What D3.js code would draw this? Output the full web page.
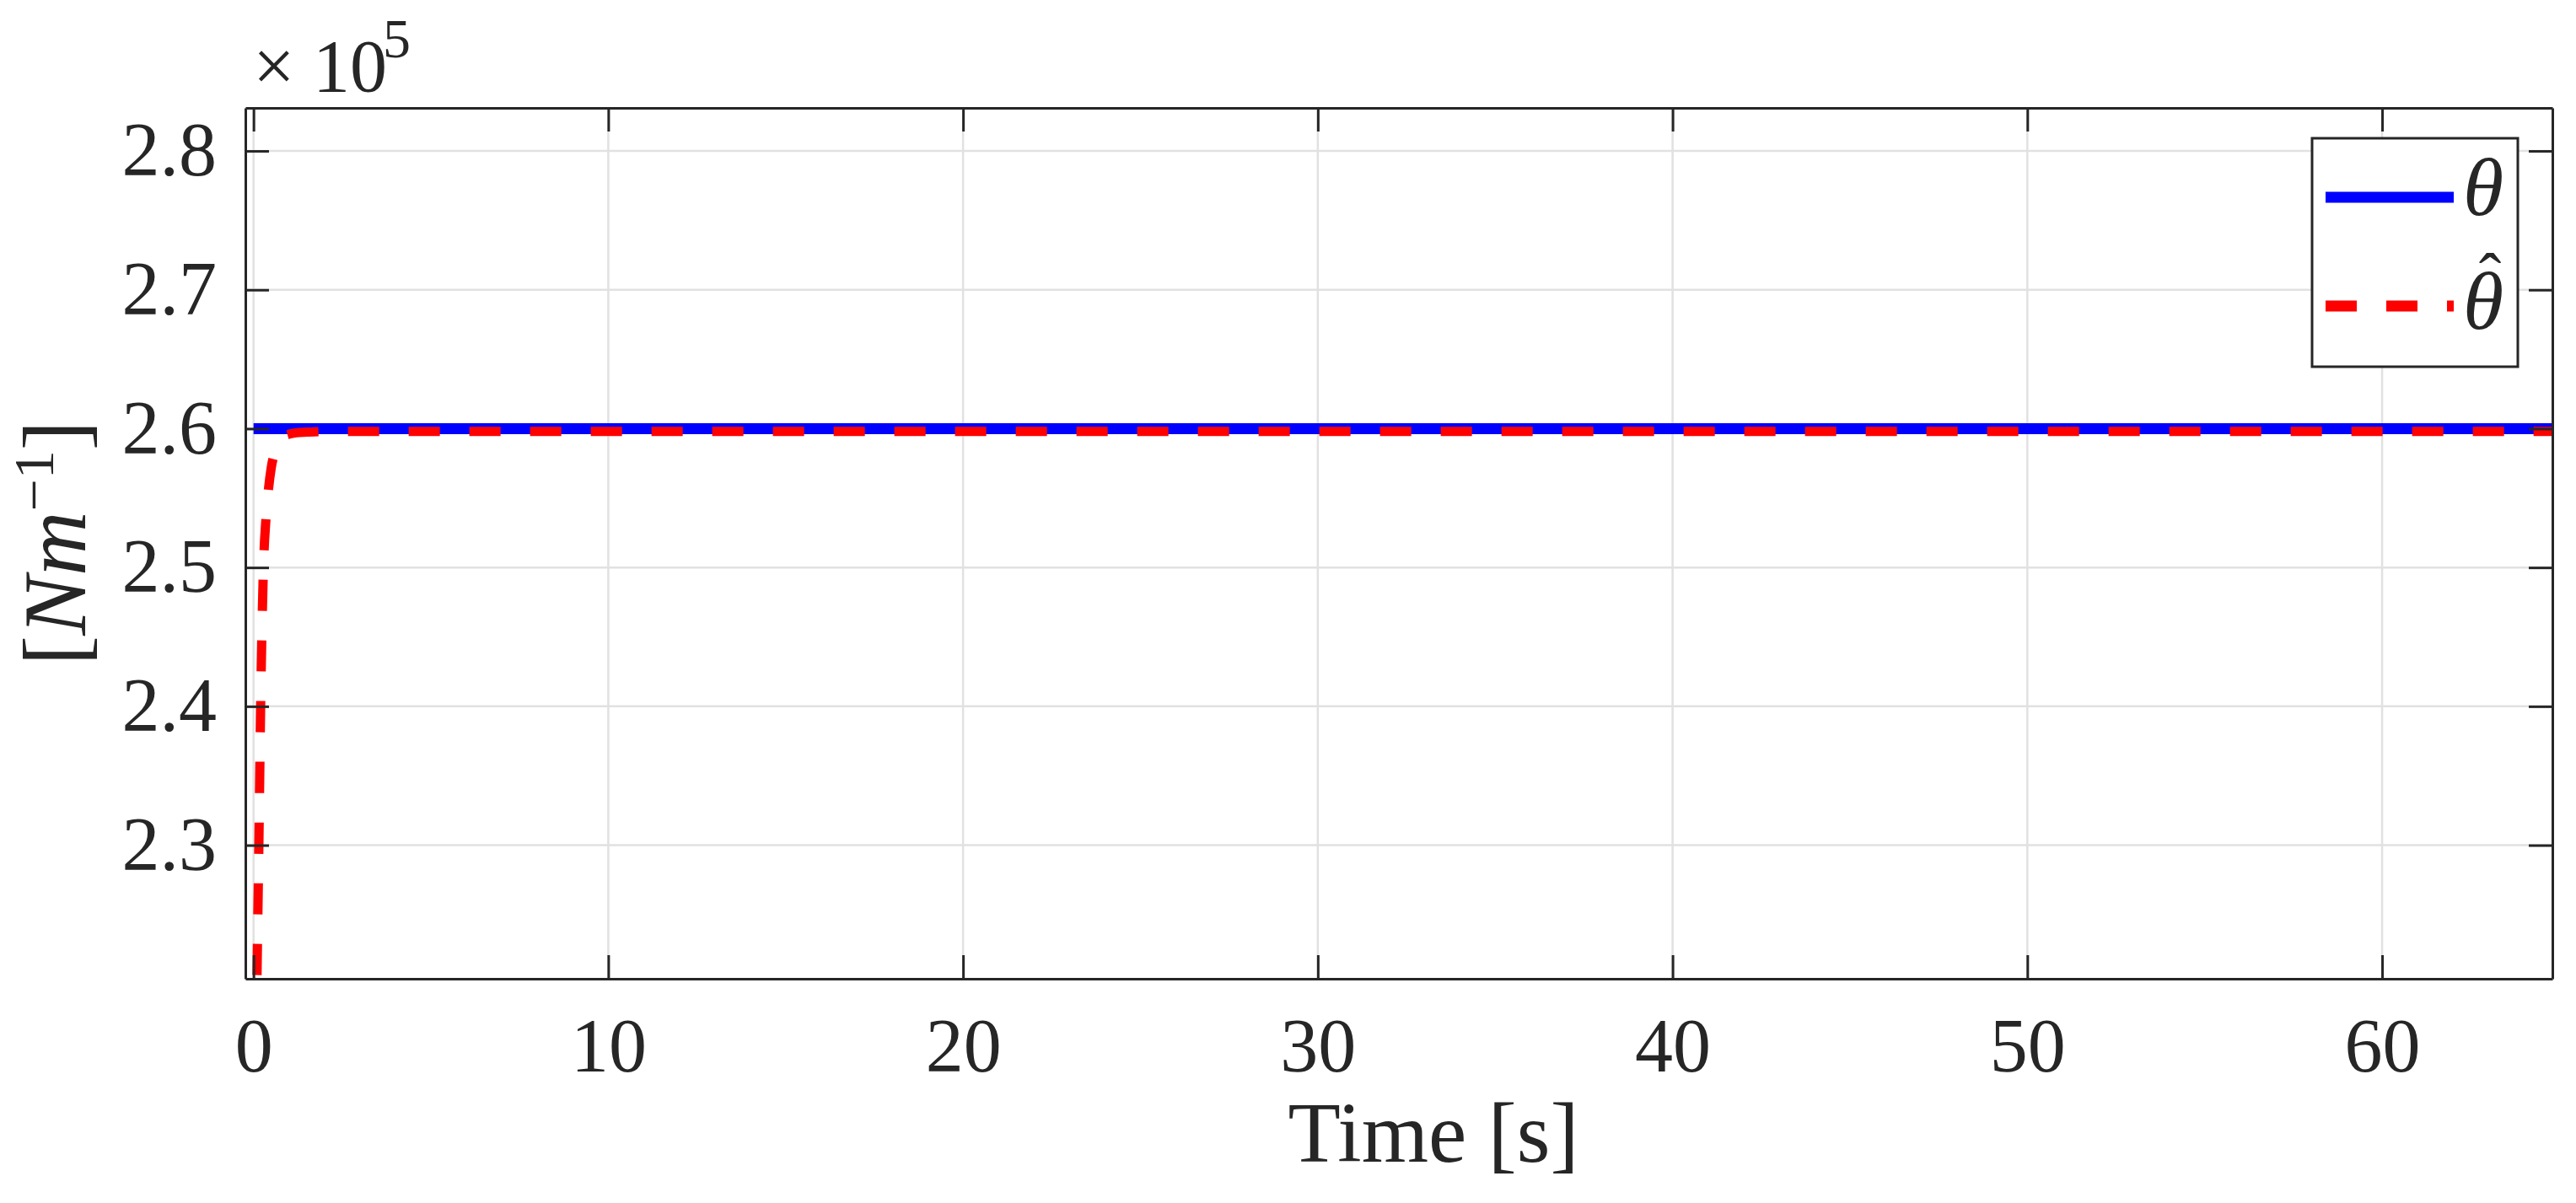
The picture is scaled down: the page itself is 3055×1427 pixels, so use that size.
<!DOCTYPE html>
<html>
<head>
<meta charset="utf-8">
<script src="https://cdn.jsdelivr.net/npm/d3@7"></script>
<style>
  html, body { margin: 0; padding: 0; background: #fff; }
  svg { display: block; }
  text { font-family: "Liberation Serif", "Times New Roman", serif; fill: #262626; }
</style>
</head>
<body>
<svg id="chart" width="3055" height="1427"></svg>
<script>
// ---- data ----
const xTicks = [0, 10, 20, 30, 40, 50, 60];
const yTicks = [2.3, 2.4, 2.5, 2.6, 2.7, 2.8];
const xDomain = [-0.23, 64.8];
const yDomain = [2.2038, 2.831];
const tTrue = [0, 65];
const thetaTrue = [2.6, 2.6];
const tEst = [0, 0.05, 0.1, 0.15, 0.2, 0.28, 0.35, 0.42, 0.5, 0.6, 0.72, 0.85, 1.0, 1.2, 1.5, 2, 3, 5, 8, 12, 20, 40, 65];
const thetaEst = [2.0, 2.1, 2.21, 2.30, 2.40, 2.50, 2.535, 2.556, 2.572, 2.583, 2.590, 2.5945, 2.596, 2.597, 2.5975, 2.598, 2.598, 2.598, 2.598, 2.598, 2.598, 2.598, 2.598];
const legendLabels = ["θ", "θ"];

// ---- layout ----
const L = 291, T = 128, R = 3027, B = 1161;
const W = R - L, H = B - T;
const svg = d3.select("#chart");
const x = d3.scaleLinear().domain(xDomain).range([0, W]);
const y = d3.scaleLinear().domain(yDomain).range([H, 0]);
const axisColor = "#262626";

const g = svg.append("g").attr("transform", `translate(${L},${T})`);

svg.append("defs").append("clipPath").attr("id", "clip")
  .append("rect").attr("x", 0).attr("y", 0).attr("width", W).attr("height", H);

// grid
g.append("g").selectAll("line.gx").data(xTicks).join("line")
  .attr("x1", d => x(d)).attr("x2", d => x(d)).attr("y1", 0).attr("y2", H)
  .attr("stroke", "#e1e1e1").attr("stroke-width", 2.5);
g.append("g").selectAll("line.gy").data(yTicks).join("line")
  .attr("y1", d => y(d)).attr("y2", d => y(d)).attr("x1", 0).attr("x2", W)
  .attr("stroke", "#e1e1e1").attr("stroke-width", 2.5);

// lines
const plot = g.append("g").attr("clip-path", "url(#clip)");
const line = d3.line().x(d => x(d[0])).y(d => y(d[1]));
const lineSmooth = d3.line().x(d => x(d[0])).y(d => y(d[1])).curve(d3.curveMonotoneX);
plot.append("path").datum(d3.zip(tTrue, thetaTrue))
  .attr("d", line).attr("fill", "none").attr("stroke", "#0000ff").attr("stroke-width", 13);
plot.append("path").datum(d3.zip(tEst, thetaEst))
  .attr("d", lineSmooth).attr("fill", "none").attr("stroke", "#ff0000").attr("stroke-width", 11)
  .attr("stroke-dasharray", "37,35").attr("stroke-dashoffset", 20);

// axes
function styleAxis(sel) {
  sel.selectAll("path.domain").attr("stroke", axisColor).attr("stroke-width", 3);
  sel.selectAll(".tick line").attr("stroke", axisColor).attr("stroke-width", 3);
}
const gx = g.append("g").attr("transform", `translate(0,${H})`)
  .call(d3.axisBottom(x).tickValues(xTicks).tickSize(-28).tickSizeOuter(0).tickPadding(46).tickFormat(d3.format("d")));
gx.call(styleAxis);
gx.selectAll("text").attr("font-size", 90).attr("fill", axisColor)
  .style("font-family", '"Liberation Serif", serif');

const gy = g.append("g")
  .call(d3.axisLeft(y).tickValues(yTicks).tickSize(-28).tickSizeOuter(0).tickPadding(34).tickFormat(d3.format(".1f")));
gy.call(styleAxis);
gy.selectAll("text").attr("font-size", 90).attr("fill", axisColor)
  .style("font-family", '"Liberation Serif", serif');

const gt = g.append("g")
  .call(d3.axisTop(x).tickValues(xTicks).tickSize(-28).tickSizeOuter(0).tickFormat(""));
gt.call(styleAxis);
const gr = g.append("g").attr("transform", `translate(${W},0)`)
  .call(d3.axisRight(y).tickValues(yTicks).tickSize(-28).tickSizeOuter(0).tickFormat(""));
gr.call(styleAxis);

// exponent label
const ex = svg.append("text").attr("font-size", 88).attr("y", 108);
ex.append("tspan").attr("x", 300).text("×");
ex.append("tspan").attr("x", 371).text("10");
ex.append("tspan").attr("x", 454).attr("y", 68).attr("font-size", 66).text("5");

// x label
svg.append("text").attr("x", 1700).attr("y", 1378).attr("text-anchor", "middle")
  .attr("font-size", 102).text("Time [s]");

// y label
const yl = svg.append("text").attr("transform", "translate(101,644) rotate(-90)")
  .attr("text-anchor", "middle").attr("font-size", 106);
yl.append("tspan").text("[");
yl.append("tspan").attr("font-style", "italic").text("N");
yl.append("tspan").attr("font-style", "italic").text("m");
yl.append("tspan").attr("font-size", 68).attr("dy", -38).text("−1");
yl.append("tspan").attr("dy", 38).text("]");

// legend
const lg = svg.append("g");
lg.append("rect").attr("x", 2742).attr("y", 164).attr("width", 244).attr("height", 271)
  .attr("fill", "#fff").attr("stroke", axisColor).attr("stroke-width", 3);
lg.append("line").attr("x1", 2758).attr("x2", 2910).attr("y1", 234).attr("y2", 234)
  .attr("stroke", "#0000ff").attr("stroke-width", 13);
lg.append("line").attr("x1", 2758).attr("x2", 2910).attr("y1", 363).attr("y2", 363)
  .attr("stroke", "#ff0000").attr("stroke-width", 13).attr("stroke-dasharray", "37,35");
lg.append("text").attr("x", 2921).attr("y", 255).attr("font-size", 98).attr("font-style", "italic")
  .attr("fill", "#000").text(legendLabels[0]);
const hatText = lg.append("text").attr("font-size", 98).attr("fill", "#000");
hatText.append("tspan").attr("x", 2921).attr("y", 390).attr("font-style", "italic").text(legendLabels[1]);
hatText.append("tspan").attr("x", 2953).attr("y", 356).attr("text-anchor", "middle")
  .attr("font-size", 80).text("ˆ");
</script>
</body>
</html>
